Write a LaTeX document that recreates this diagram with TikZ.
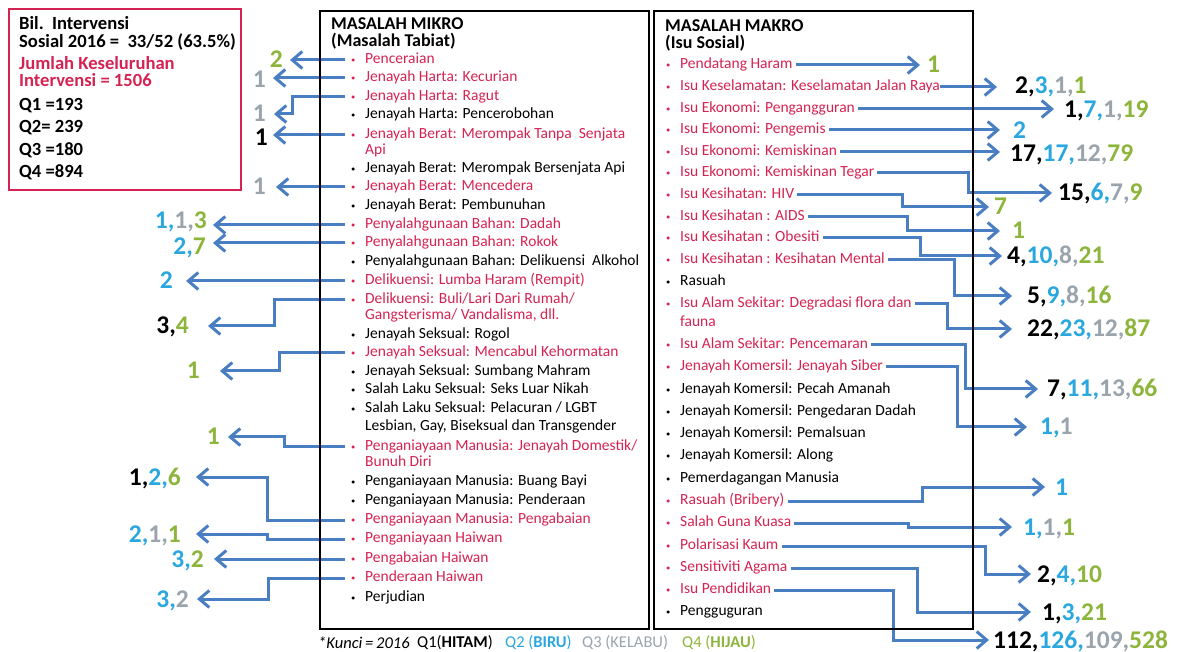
\documentclass[tikz,border=0pt]{standalone}
\usepackage{fontspec}
\setmainfont{Carlito}
\usetikzlibrary{arrows.meta,calc}
\definecolor{cred}{HTML}{D42352}
\definecolor{cblue}{HTML}{4A7EC3}
\definecolor{qcyan}{HTML}{2AA7DF}
\definecolor{qgray}{HTML}{9AA4AC}
\definecolor{qgreen}{HTML}{8DB43B}
\newcommand\qK[1]{\textcolor{black}{#1}}
\newcommand\qC[1]{\textcolor{qcyan}{#1}}
\newcommand\qH[1]{\textcolor{qgray}{#1}}
\newcommand\qG[1]{\textcolor{qgreen}{#1}}
\newcommand\fsItem{\fontsize{15.5}{18}\selectfont}
\newcommand\fsNum{\bfseries\fontsize{25.5}{28}\selectfont}
\newcommand\fsHead{\bfseries\fontsize{18}{20}\selectfont}
\newcommand\fsInfo{\bfseries\fontsize{18.6}{20}\selectfont}
\newcommand\fsLeg{\fontsize{16.5}{18}\selectfont}
\begin{document}
\begin{tikzpicture}[x=1pt,y=-1pt,
  itm/.style={anchor=west, inner sep=0pt, font=\fsItem, text height=10pt, text depth=3pt},
  itmR/.style={itm, text=cred, label={[circle, fill=cred, inner sep=0pt, minimum size=3.4pt, label distance=10pt]left:{}}},
  itmK/.style={itm, text=black, label={[circle, fill=black, inner sep=0pt, minimum size=3.4pt, label distance=10pt]left:{}}},
  contR/.style={itm, text=cred},
  contK/.style={itm, text=black},
  numL/.style={anchor=east, inner sep=0pt, font=\fsNum, text height=16pt, text depth=0pt},
  numR/.style={anchor=west, inner sep=0pt, font=\fsNum, text height=16pt, text depth=0pt},
  arr/.style={draw=cblue, line width=3pt, -{Straight Barb[length=10pt,width=17pt]}},
  head/.style={anchor=west, inner sep=0pt, font=\fsHead},
  info/.style={anchor=west, inner sep=0pt, font=\fsInfo, text height=12pt, text depth=2pt},
  leg/.style={anchor=west, inner sep=0pt, font=\fsLeg},
  panel/.style={draw=black, line width=1.8pt, anchor=north west, inner sep=0pt}
]
\useasboundingbox (0,0) rectangle (1179,652);

% info box
\node (infobox) [draw=cred, line width=2pt, anchor=north west, inner sep=0pt, minimum width=232pt, minimum height=181pt] at (8,8) {};
\node (t1) [info] at (19,25) {Bil.\ \ Intervensi};
\node (t2) [info] at (19,43) {Sosial 2016 =\ \ 33/52 (63.5\%)};
\node (t3) [info, text=cred] at (19,65) {Jumlah Keseluruhan};
\node (t4) [info, text=cred] at (19,82) {Intervensi = 1506};
\node (t5) [info] at (19,106) {Q1 =193};
\node (t6) [info] at (19,128) {Q2= 239};
\node (t7) [info] at (19,151) {Q3 =180};
\node (t8) [info] at (19,173) {Q4 =894};

% headers
\node (h1) [head] at (331,24) {MASALAH MIKRO};
\node (h1b) [head] at (331,41) {(Masalah Tabiat)};
\node (h2) [head] at (665,26) {MASALAH MAKRO};
\node (h2b) [head] at (665,43) {(Isu Sosial)};

% left items
\node (l1) [itmR] at (365,60) {Penceraian};
\node (l2) [itmR] at (365,78) {Jenayah Harta: Kecurian};
\node (l3) [itmR] at (365,97) {Jenayah Harta: Ragut};
\node (l4) [itmK] at (365,115) {Jenayah Harta: Pencerobohan};
\node (l5) [itmR] at (365,135) {Jenayah Berat: Merompak Tanpa\ \ Senjata};
\node (l5b) [contR] at (365,151) {Api};
\node (l6) [itmK] at (365,169) {Jenayah Berat: Merompak Bersenjata Api};
\node (l7) [itmR] at (365,187) {Jenayah Berat: Mencedera};
\node (l8) [itmK] at (365,206) {Jenayah Berat: Pembunuhan};
\node (l9) [itmR] at (365,225) {Penyalahgunaan Bahan: Dadah};
\node (l10) [itmR] at (365,243) {Penyalahgunaan Bahan: Rokok};
\node (l11) [itmK] at (365,262) {Penyalahgunaan Bahan: Delikuensi\ \ Alkohol};
\node (l12) [itmR] at (365,281) {Delikuensi: Lumba Haram (Rempit)};
\node (l13) [itmR] at (365,300) {Delikuensi: Buli/Lari Dari Rumah/};
\node (l13b) [contR] at (365,316) {Gangsterisma/ Vandalisma, dll.};
\node (l14) [itmK] at (365,335) {Jenayah Seksual: Rogol};
\node (l15) [itmR] at (365,353) {Jenayah Seksual: Mencabul Kehormatan};
\node (l16) [itmK] at (365,372) {Jenayah Seksual: Sumbang Mahram};
\node (l17) [itmK] at (365,390) {Salah Laku Seksual: Seks Luar Nikah};
\node (l18) [itmK] at (365,409) {Salah Laku Seksual: Pelacuran / LGBT};
\node (l18b) [contK] at (365,427) {Lesbian, Gay, Biseksual dan Transgender};
\node (l19) [itmR] at (365,447) {Penganiayaan Manusia: Jenayah Domestik/};
\node (l19b) [contR] at (365,463) {Bunuh Diri};
\node (l20) [itmK] at (365,482) {Penganiayaan Manusia: Buang Bayi};
\node (l21) [itmK] at (365,501) {Penganiayaan Manusia: Penderaan};
\node (l22) [itmR] at (365,520) {Penganiayaan Manusia: Pengabaian};
\node (l23) [itmR] at (365,539) {Penganiayaan Haiwan};
\node (l24) [itmR] at (365,559) {Pengabaian Haiwan};
\node (l25) [itmR] at (365,578) {Penderaan Haiwan};
\node (l26) [itmK] at (365,598) {Perjudian};

% right items
\node (r1) [itmR] at (680,65) {Pendatang Haram};
\node (r2) [itmR] at (680,87) {Isu Keselamatan: Keselamatan Jalan Raya};
\node (r3) [itmR] at (680,109) {Isu Ekonomi: Pengangguran};
\node (r4) [itmR] at (680,130) {Isu Ekonomi: Pengemis};
\node (r5) [itmR] at (680,152) {Isu Ekonomi: Kemiskinan};
\node (r6) [itmR] at (680,173) {Isu Ekonomi: Kemiskinan Tegar};
\node (r7) [itmR] at (680,195) {Isu Kesihatan: HIV};
\node (r8) [itmR] at (680,217) {Isu Kesihatan : AIDS};
\node (r9) [itmR] at (680,238) {Isu Kesihatan : Obesiti};
\node (r10) [itmR] at (680,260) {Isu Kesihatan : Kesihatan Mental};
\node (r11) [itmK] at (680,282) {Rasuah};
\node (r12) [itmR] at (680,304) {Isu Alam Sekitar: Degradasi flora dan};
\node (r12b) [contR] at (680,323) {fauna};
\node (r13) [itmR] at (680,345) {Isu Alam Sekitar: Pencemaran};
\node (r14) [itmR] at (680,367) {Jenayah Komersil: Jenayah Siber};
\node (r15) [itmK] at (680,390) {Jenayah Komersil: Pecah Amanah};
\node (r16) [itmK] at (680,412) {Jenayah Komersil: Pengedaran Dadah};
\node (r17) [itmK] at (680,434) {Jenayah Komersil: Pemalsuan};
\node (r18) [itmK] at (680,456) {Jenayah Komersil: Along};
\node (r19) [itmK] at (680,479) {Pemerdagangan Manusia};
\node (r20) [itmR] at (680,501) {Rasuah (Bribery)};
\node (r21) [itmR] at (680,523) {Salah Guna Kuasa};
\node (r22) [itmR] at (680,546) {Polarisasi Kaum};
\node (r23) [itmR] at (680,568) {Sensitiviti Agama};
\node (r24) [itmR] at (680,590) {Isu Pendidikan};
\node (r25) [itmK] at (680,612) {Pengguguran};

% left numbers
\node (n1) [numL] at (283,60) {\qG{2}};
\node (n2) [numL] at (266,80) {\qH{1}};
\node (n3) [numL] at (266,114) {\qH{1}};
\node (n4) [numL] at (268,138) {\qK{1}};
\node (n5) [numL] at (266,187) {\qH{1}};
\node (n6) [numL] at (207,221) {\qC{1,}\qH{1,}\qG{3}};
\node (n7) [numL] at (206,247) {\qC{2,}\qG{7}};
\node (n8) [numL] at (173,281) {\qC{2}};
\node (n9) [numL] at (189,326) {\qK{3,}\qG{4}};
\node (n10) [numL] at (200,371) {\qG{1}};
\node (n11) [numL] at (220,437) {\qG{1}};
\node (n12) [numL] at (181,477) {\qK{1,}\qC{2,}\qG{6}};
\node (n13) [numL] at (181,534) {\qC{2,}\qH{1,}\qG{1}};
\node (n14) [numL] at (204,559) {\qC{3,}\qG{2}};
\node (n15) [numL] at (189,599) {\qC{3,}\qH{2}};

% right numbers
\node (m1) [numR] at (927,65) {\qG{1}};
\node (m2) [numR] at (1015,86) {\qK{2,}\qC{3,}\qH{1,}\qG{1}};
\node (m3) [numR] at (1064,110) {\qK{1,}\qC{7,}\qH{1,}\qG{19}};
\node (m4) [numR] at (1013,131) {\qC{2}};
\node (m5) [numR] at (1010,154) {\qK{17,}\qC{17,}\qH{12,}\qG{79}};
\node (m6) [numR] at (1058,193) {\qK{15,}\qC{6,}\qH{7,}\qG{9}};
\node (m7) [numR] at (994,207) {\qG{7}};
\node (m8) [numR] at (1012,231) {\qG{1}};
\node (m9) [numR] at (1007,256) {\qK{4,}\qC{10,}\qH{8,}\qG{21}};
\node (m10) [numR] at (1027,296) {\qK{5,}\qC{9,}\qH{8,}\qG{16}};
\node (m11) [numR] at (1027,329) {\qK{22,}\qC{23,}\qH{12,}\qG{87}};
\node (m12) [numR] at (1047,389) {\qK{7,}\qC{11,}\qH{13,}\qG{66}};
\node (m13) [numR] at (1040,427) {\qC{1,}\qH{1}};
\node (m14) [numR] at (1055,487) {\qC{1}};
\node (m15) [numR] at (1023,527) {\qC{1,}\qH{1,}\qG{1}};
\node (m16) [numR] at (1037,574) {\qK{2,}\qC{4,}\qG{10}};
\node (m17) [numR] at (1042,612) {\qK{1,}\qC{3,}\qG{21}};
\node (m18) [numR] at (993,640) {\qK{112,}\qC{126,}\qH{109,}\qG{528}};

% left arrows
\draw[arr, shorten >=7pt] ([xshift=-20pt]l1.west) -- (n1.east |- l1.west);
\draw[arr, shorten >=7pt] ([xshift=-20pt]l2.west) -- (n2.east |- l2.west);
\draw[arr, shorten >=8pt] ([xshift=-20pt]l3.west) -| (292,114) -- (n3);
\draw[arr, shorten >=5pt] ([xshift=-20pt]l5.west) -- (n4.east |- l5.west);
\draw[arr, shorten >=10pt] ([xshift=-20pt]l7.west) -- (n5.east |- l7.west);
\draw[arr, shorten >=6pt] ([xshift=-20pt]l9.west) -- (n6.east |- l9.west);
\draw[arr, shorten >=7pt] ([xshift=-20pt]l10.west) -- (n7.east |- l10.west);
\draw[arr, shorten >=13pt] ([xshift=-20pt]l12.west) -- (n8.east |- l12.west);
\draw[arr, shorten >=19pt] ([xshift=-20pt]l13.west) -| (274,326) -- (n9);
\draw[arr, shorten >=20pt] ([xshift=-20pt]l15.west) -| (279,371) -- (n10);
\draw[arr, shorten >=8pt] ([xshift=-20pt]l19.west) -| (284,437) -- (n11);
\draw[arr, shorten >=15pt] ([xshift=-20pt]l22.west) -| (267,477) -- (n12);
\draw[arr, shorten >=15pt] ([xshift=-20pt]l23.west) -| (267,534) -- (n13);
\draw[arr, shorten >=10pt] ([xshift=-20pt]l24.west) -- (n14.east |- l24.west);
\draw[arr, shorten >=8pt] ([xshift=-20pt]l25.west) -| (268,599) -- (n15);

% right arrows
\draw[arr, shorten >=7pt] ([xshift=3pt]r1.east) -- (m1.west |- r1.east);
\draw[arr, shorten >=18pt] ([xshift=0pt]r2.east) -- (m2.west |- r2.east);
\draw[arr, shorten >=10pt] ([xshift=3pt]r3.east) -- (m3.west |- r3.east);
\draw[arr, shorten >=13pt] ([xshift=3pt]r4.east) -- (m4.west |- r4.east);
\draw[arr, shorten >=10pt] ([xshift=3pt]r5.east) -- (m5.west |- r5.east);
\draw[arr, shorten >=6pt] ([xshift=3pt]r6.east) -| (968,193) -- (m6);
\draw[arr, shorten >=5pt] ([xshift=3pt]r7.east) -| (902,207) -- (m7);
\draw[arr, shorten >=12pt] ([xshift=3pt]r8.east) -| (907,231) -- (m8);
\draw[arr, shorten >=5pt] ([xshift=3pt]r9.east) -| (920,256) -- (m9);
\draw[arr, shorten >=15pt] ([xshift=3pt]r10.east) -| (954,296) -- (m10);
\draw[arr, shorten >=15pt] ([xshift=3pt]r12.east) -| (947,329) -- (m11);
\draw[arr, shorten >=9pt] ([xshift=3pt]r13.east) -| (965,389) -- (m12);
\draw[arr, shorten >=13pt] ([xshift=3pt]r14.east) -| (957,427) -- (m13);
\draw[arr, shorten >=10pt] ([xshift=3pt]r20.east) -| (922,487) -- (m14);
\draw[arr, shorten >=11pt] ([xshift=3pt]r21.east) -| (908,527) -- (m15);
\draw[arr, shorten >=6pt] ([xshift=3pt]r22.east) -| (985,574) -- (m16);
\draw[arr, shorten >=11pt] ([xshift=3pt]r23.east) -| (917,612) -- (m17);
\draw[arr, shorten >=4pt] ([xshift=3pt]r24.east) -| (893,640) -- (m18);

% panels
\node (mikro) [panel, minimum width=329pt, minimum height=618pt] at (319,10) {};
\node (makro) [panel, minimum width=319pt, minimum height=618pt] at (653,10) {};

% legend
\node (k0) [leg] at (318,643) {\itshape *Kunci\,=\,2016};
\node (k1) [leg] at (417,643) {Q1(\textbf{HITAM})};
\node (k2) [leg, text=qcyan] at (505,643) {Q2 (\textbf{BIRU})};
\node (k3) [leg, text=qgray] at (582,643) {Q3 (KELABU)};
\node (k4) [leg, text=qgreen] at (682,643) {Q4 (\textbf{HIJAU})};
\end{tikzpicture}
\end{document}
